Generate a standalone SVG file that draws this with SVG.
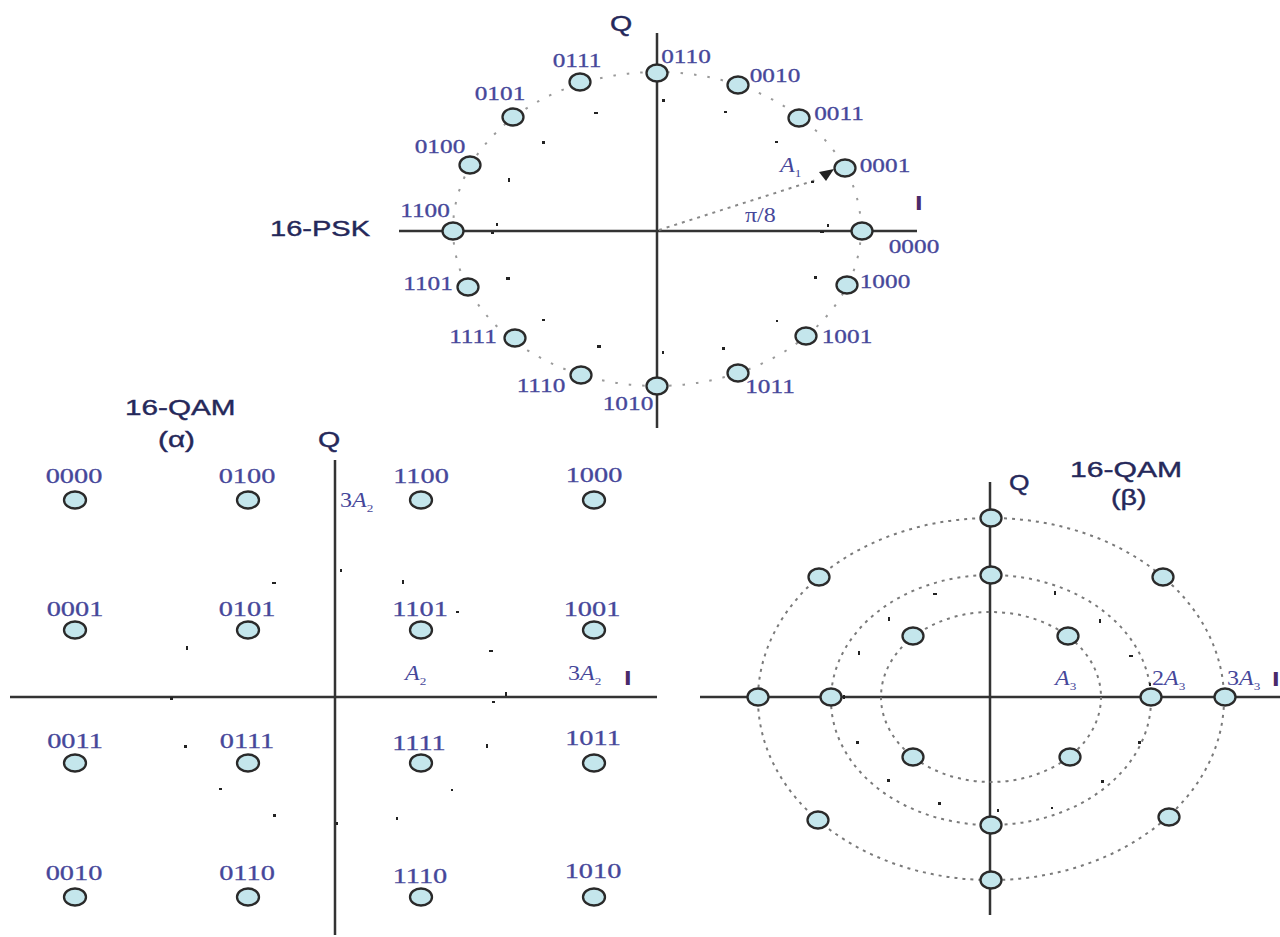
<svg xmlns="http://www.w3.org/2000/svg" width="1280" height="937" viewBox="0 0 1280 937">
<style>
.ax{stroke:#333;stroke-width:2.5;fill:none}
.ringp{fill:none;stroke:#9a9a9a;stroke-width:2;stroke-dasharray:2.5 11}
.ringb{fill:none;stroke:#7a7a7a;stroke-width:2;stroke-dasharray:3 5}
.pt{fill:#c4e6ec;stroke:#2a2a2a;stroke-width:2.3}
.lb{font-family:"Liberation Serif",serif;fill:#46479a;text-anchor:middle;stroke:#46479a;stroke-width:0.3}
.lp{font-size:19px}
.lq{font-size:21px}
.tt{font-family:"Liberation Sans",Arial,sans-serif;fill:#25285a;font-size:22px;stroke:#25285a;stroke-width:0.4}
.ti{font-family:"Liberation Serif",serif;fill:#46479a;font-size:20px}
.bi{font-family:"Liberation Sans",sans-serif;font-size:21px;fill:#4a2a6a;font-weight:bold}
.it{font-style:italic}
.nz{fill:#222}
</style>
<rect width="1280" height="937" fill="#fff"/>

<!-- axes -->
<g id="axes">
<line class="ax" x1="399" y1="231" x2="917" y2="231"/>
<line class="ax" x1="657" y1="33" x2="657" y2="428"/>
<line class="ax" x1="10" y1="697" x2="657" y2="697"/>
<line class="ax" x1="335" y1="460" x2="335" y2="935"/>
<line class="ax" x1="700" y1="697" x2="1280" y2="697"/>
<line class="ax" x1="990" y1="482" x2="990" y2="915"/>
</g>

<!-- rings -->
<g id="rings">
<ellipse class="ringp" cx="657" cy="229" rx="204" ry="157"/>
<ellipse class="ringb" cx="991" cy="699" rx="233" ry="181"/>
<ellipse class="ringb" cx="991" cy="700" rx="160" ry="125"/>
<ellipse class="ringb" cx="991" cy="697" rx="110" ry="85"/>
</g>

<!-- connectors -->
<g id="connectors">
<line x1="659" y1="230" x2="816" y2="180" stroke="#888" stroke-width="2" stroke-dasharray="3 5"/>
<polygon points="819,172 834,169 826,181" fill="#222"/>
</g>

<!-- scan marks -->
<g id="marks" class="nz">
<rect x="594" y="112" width="4" height="2"/><rect x="542" y="141" width="3" height="3"/><rect x="508" y="178" width="2" height="4"/>
<rect x="662" y="99" width="3" height="3"/><rect x="724" y="111" width="3" height="2"/><rect x="775" y="141" width="3" height="2"/>
<rect x="811" y="181" width="3" height="2"/><rect x="827" y="224" width="2" height="3"/><rect x="820" y="231" width="4" height="2"/>
<rect x="496" y="223" width="2" height="3"/><rect x="491" y="232" width="3" height="2"/><rect x="506" y="277" width="4" height="3"/>
<rect x="542" y="319" width="3" height="2"/><rect x="597" y="345" width="4" height="3"/><rect x="662" y="351" width="2" height="3"/>
<rect x="814" y="276" width="3" height="3"/><rect x="776" y="320" width="2" height="2"/><rect x="722" y="347" width="3" height="3"/>
<rect x="272" y="582" width="4" height="2"/><rect x="186" y="646" width="2" height="4"/><rect x="340" y="569" width="2" height="3"/>
<rect x="402" y="580" width="2" height="4"/><rect x="456" y="611" width="3" height="2"/><rect x="489" y="650" width="4" height="2"/>
<rect x="505" y="692" width="2" height="4"/><rect x="170" y="697" width="3" height="3"/><rect x="184" y="745" width="3" height="3"/>
<rect x="219" y="788" width="3" height="2"/><rect x="273" y="814" width="3" height="3"/><rect x="336" y="822" width="2" height="3"/>
<rect x="396" y="817" width="2" height="3"/><rect x="451" y="789" width="2" height="2"/><rect x="486" y="744" width="2" height="4"/>
<rect x="492" y="701" width="3" height="2"/>
<rect x="858" y="651" width="2" height="4"/><rect x="888" y="617" width="2" height="4"/><rect x="933" y="593" width="4" height="2"/>
<rect x="1054" y="591" width="2" height="4"/><rect x="1099" y="619" width="2" height="4"/><rect x="1129" y="655" width="4" height="2"/>
<rect x="1149" y="683" width="2" height="3"/><rect x="843" y="695" width="2" height="4"/><rect x="856" y="741" width="3" height="3"/>
<rect x="887" y="779" width="3" height="3"/><rect x="938" y="802" width="3" height="3"/><rect x="997" y="809" width="2" height="3"/>
<rect x="1051" y="807" width="2" height="2"/><rect x="1101" y="780" width="3" height="3"/><rect x="1138" y="741" width="3" height="3"/>
</g>

<!-- 16-PSK -->
<g id="psk-title">
<text class="tt" transform="translate(270 236) scale(1.32 1)">16-PSK</text>
<text class="tt" transform="translate(610 31) scale(1.3 1)">Q</text>
<text class="bi" transform="translate(915 210) scale(1.3 1)">I</text>
<text class="ti it" transform="translate(780 172) scale(1.2 1)">A<tspan font-style="normal" font-size="11" dy="5">1</tspan></text>
<text class="ti" transform="translate(745 222) scale(1.2 1)">π/8</text>
</g>
<g id="psk-0000"><ellipse class="pt" cx="862" cy="231" rx="10.5" ry="8.5"/><text class="lb lp" transform="translate(914 253) scale(1.33 1)">0000</text></g>
<g id="psk-0001"><ellipse class="pt" cx="845" cy="168" rx="10.5" ry="8.5"/><text class="lb lp" transform="translate(885 172) scale(1.33 1)">0001</text></g>
<g id="psk-0011"><ellipse class="pt" cx="799" cy="118" rx="10.5" ry="8.5"/><text class="lb lp" transform="translate(839 120) scale(1.33 1)">0011</text></g>
<g id="psk-0010"><ellipse class="pt" cx="738" cy="85" rx="10.5" ry="8.5"/><text class="lb lp" transform="translate(775 82) scale(1.33 1)">0010</text></g>
<g id="psk-0110"><ellipse class="pt" cx="657" cy="73" rx="10.5" ry="8.5"/><text class="lb lp" transform="translate(686 63) scale(1.33 1)">0110</text></g>
<g id="psk-0111"><ellipse class="pt" cx="580" cy="82" rx="10.5" ry="8.5"/><text class="lb lp" transform="translate(577 67) scale(1.33 1)">0111</text></g>
<g id="psk-0101"><ellipse class="pt" cx="513" cy="117" rx="10.5" ry="8.5"/><text class="lb lp" transform="translate(500 100) scale(1.33 1)">0101</text></g>
<g id="psk-0100"><ellipse class="pt" cx="470" cy="165" rx="10.5" ry="8.5"/><text class="lb lp" transform="translate(440 153) scale(1.33 1)">0100</text></g>
<g id="psk-1100"><ellipse class="pt" cx="453" cy="231" rx="10.5" ry="8.5"/><text class="lb lp" transform="translate(425 217) scale(1.33 1)">1100</text></g>
<g id="psk-1101"><ellipse class="pt" cx="468" cy="287" rx="10.5" ry="8.5"/><text class="lb lp" transform="translate(428 290) scale(1.33 1)">1101</text></g>
<g id="psk-1111"><ellipse class="pt" cx="515" cy="338" rx="10.5" ry="8.5"/><text class="lb lp" transform="translate(473 343) scale(1.33 1)">1111</text></g>
<g id="psk-1110"><ellipse class="pt" cx="581" cy="375" rx="10.5" ry="8.5"/><text class="lb lp" transform="translate(541 392) scale(1.33 1)">1110</text></g>
<g id="psk-1010"><ellipse class="pt" cx="657" cy="386" rx="10.5" ry="8.5"/><text class="lb lp" transform="translate(628 410) scale(1.33 1)">1010</text></g>
<g id="psk-1011"><ellipse class="pt" cx="738" cy="373" rx="10.5" ry="8.5"/><text class="lb lp" transform="translate(770 393) scale(1.33 1)">1011</text></g>
<g id="psk-1001"><ellipse class="pt" cx="806" cy="336" rx="10.5" ry="8.5"/><text class="lb lp" transform="translate(847 343) scale(1.33 1)">1001</text></g>
<g id="psk-1000"><ellipse class="pt" cx="847" cy="285" rx="10.5" ry="8.5"/><text class="lb lp" transform="translate(885 288) scale(1.33 1)">1000</text></g>

<!-- 16-QAM alpha -->
<g id="qama-title">
<text class="tt" transform="translate(125 415) scale(1.35 1)">16-QAM</text>
<text class="tt" transform="translate(158 447) scale(1.35 1)">(α)</text>
<text class="tt" transform="translate(318 447) scale(1.3 1)">Q</text>
<text class="ti" transform="translate(340 507) scale(1.2 1)">3<tspan class="it">A</tspan><tspan font-size="11" dy="5">2</tspan></text>
<text class="ti it" transform="translate(405 680) scale(1.2 1)">A<tspan font-style="normal" font-size="11" dy="5">2</tspan></text>
<text class="ti" transform="translate(568 680) scale(1.2 1)">3<tspan class="it">A</tspan><tspan font-size="11" dy="5">2</tspan></text>
<text class="bi" transform="translate(624 685) scale(1.3 1)">I</text>
</g>
<g id="qa-0000"><ellipse class="pt" cx="75" cy="500" rx="11" ry="8.5"/><text class="lb lq" transform="translate(74 483) scale(1.35 1)">0000</text></g>
<g id="qa-0100"><ellipse class="pt" cx="248" cy="500" rx="11" ry="8.5"/><text class="lb lq" transform="translate(247 483) scale(1.35 1)">0100</text></g>
<g id="qa-1100"><ellipse class="pt" cx="421" cy="500" rx="11" ry="8.5"/><text class="lb lq" transform="translate(421 483) scale(1.35 1)">1100</text></g>
<g id="qa-1000"><ellipse class="pt" cx="594" cy="500" rx="11" ry="8.5"/><text class="lb lq" transform="translate(594 482) scale(1.35 1)">1000</text></g>
<g id="qa-0001"><ellipse class="pt" cx="75" cy="630" rx="11" ry="8.5"/><text class="lb lq" transform="translate(75 616) scale(1.35 1)">0001</text></g>
<g id="qa-0101"><ellipse class="pt" cx="248" cy="630" rx="11" ry="8.5"/><text class="lb lq" transform="translate(247 616) scale(1.35 1)">0101</text></g>
<g id="qa-1101"><ellipse class="pt" cx="421" cy="630" rx="11" ry="8.5"/><text class="lb lq" transform="translate(420 616) scale(1.35 1)">1101</text></g>
<g id="qa-1001"><ellipse class="pt" cx="594" cy="630" rx="11" ry="8.5"/><text class="lb lq" transform="translate(592 616) scale(1.35 1)">1001</text></g>
<g id="qa-0011"><ellipse class="pt" cx="75" cy="763" rx="11" ry="8.5"/><text class="lb lq" transform="translate(75 748) scale(1.35 1)">0011</text></g>
<g id="qa-0111"><ellipse class="pt" cx="248" cy="763" rx="11" ry="8.5"/><text class="lb lq" transform="translate(247 748) scale(1.35 1)">0111</text></g>
<g id="qa-1111"><ellipse class="pt" cx="421" cy="763" rx="11" ry="8.5"/><text class="lb lq" transform="translate(419 750) scale(1.35 1)">1111</text></g>
<g id="qa-1011"><ellipse class="pt" cx="594" cy="763" rx="11" ry="8.5"/><text class="lb lq" transform="translate(593 745) scale(1.35 1)">1011</text></g>
<g id="qa-0010"><ellipse class="pt" cx="75" cy="897" rx="11" ry="8.5"/><text class="lb lq" transform="translate(74 880) scale(1.35 1)">0010</text></g>
<g id="qa-0110"><ellipse class="pt" cx="248" cy="897" rx="11" ry="8.5"/><text class="lb lq" transform="translate(247 880) scale(1.35 1)">0110</text></g>
<g id="qa-1110"><ellipse class="pt" cx="421" cy="897" rx="11" ry="8.5"/><text class="lb lq" transform="translate(420 883) scale(1.35 1)">1110</text></g>
<g id="qa-1010"><ellipse class="pt" cx="594" cy="897" rx="11" ry="8.5"/><text class="lb lq" transform="translate(593 878) scale(1.35 1)">1010</text></g>

<!-- 16-QAM beta -->
<g id="qamb-title">
<text class="tt" transform="translate(1070 477) scale(1.37 1)">16-QAM</text>
<text class="tt" transform="translate(1111 505) scale(1.3 1)">(β)</text>
<text class="tt" transform="translate(1009 490) scale(1.2 1)">Q</text>
<text class="ti it" transform="translate(1055 685) scale(1.2 1)">A<tspan font-style="normal" font-size="11" dy="5">3</tspan></text>
<text class="ti" transform="translate(1152 685) scale(1.2 1)">2<tspan class="it">A</tspan><tspan font-size="11" dy="5">3</tspan></text>
<text class="ti" transform="translate(1227 685) scale(1.2 1)">3<tspan class="it">A</tspan><tspan font-size="11" dy="5">3</tspan></text>
<text class="bi" transform="translate(1272 686) scale(1.3 1)">I</text>
</g>
<g id="qb-outer">
<ellipse class="pt" cx="991" cy="518" rx="10.5" ry="8.5"/>
<ellipse class="pt" cx="758" cy="697" rx="10.5" ry="8.5"/>
<ellipse class="pt" cx="1225" cy="697" rx="10.5" ry="8.5"/>
<ellipse class="pt" cx="991" cy="880" rx="10.5" ry="8.5"/>
<ellipse class="pt" cx="819" cy="577" rx="10.5" ry="8.5"/>
<ellipse class="pt" cx="1163" cy="577" rx="10.5" ry="8.5"/>
<ellipse class="pt" cx="818" cy="820" rx="10.5" ry="8.5"/>
<ellipse class="pt" cx="1169" cy="817" rx="10.5" ry="8.5"/>
</g>
<g id="qb-middle">
<ellipse class="pt" cx="991" cy="575" rx="10.5" ry="8.5"/>
<ellipse class="pt" cx="831" cy="697" rx="10.5" ry="8.5"/>
<ellipse class="pt" cx="1151" cy="697" rx="10.5" ry="8.5"/>
<ellipse class="pt" cx="991" cy="825" rx="10.5" ry="8.5"/>
</g>
<g id="qb-inner">
<ellipse class="pt" cx="913" cy="636" rx="10.5" ry="8.5"/>
<ellipse class="pt" cx="1068" cy="636" rx="10.5" ry="8.5"/>
<ellipse class="pt" cx="913" cy="757" rx="10.5" ry="8.5"/>
<ellipse class="pt" cx="1070" cy="757" rx="10.5" ry="8.5"/>
</g>
</svg>
